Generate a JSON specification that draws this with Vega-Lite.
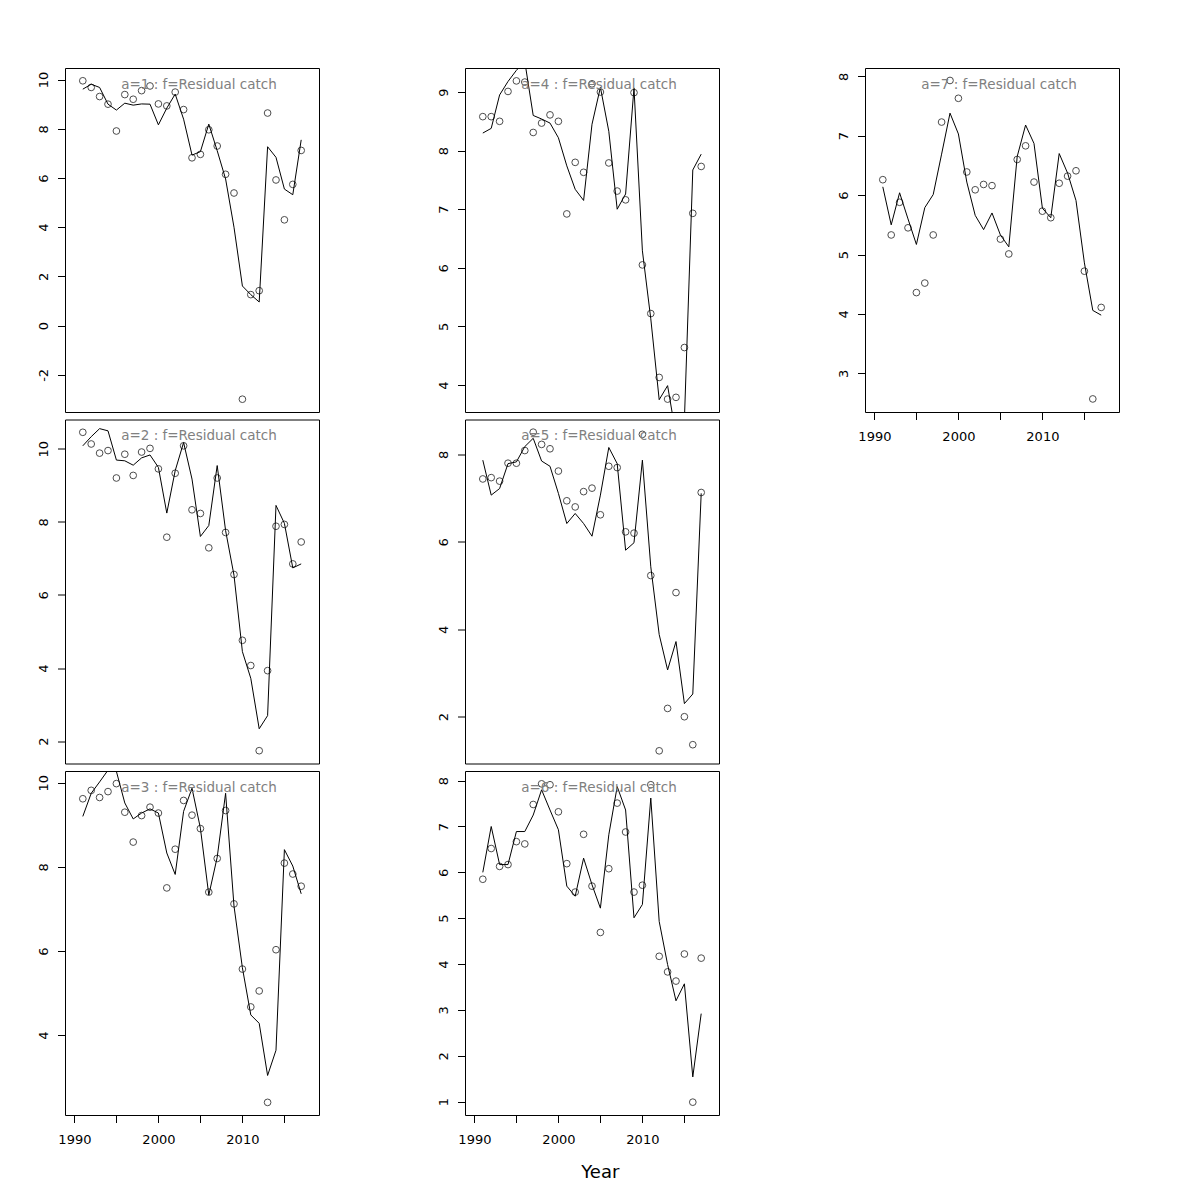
{
  "$schema": "https://vega.github.io/schema/vega-lite/v6.json",
  "padding": {"left": 36, "top": 67, "right": 5, "bottom": 5},
  "background": "white",
  "config": {
    "font": "DejaVu Sans",
    "view": {"stroke": "black", "strokeWidth": 1},
    "axis": {"domain": false, "grid": false, "tickColor": "black", "tickSize": 7.5, "labelColor": "black", "labelFontSize": 13, "labelFont": "DejaVu Sans", "labelFlush": false, "labelOverlap": false, "title": null}
  },
  "title": {"text": "Year", "orient": "bottom", "anchor": "middle", "frame": "bounds", "dx": 22, "fontSize": 18, "fontWeight": "normal", "color": "black", "font": "DejaVu Sans", "offset": 17},
  "data": {"values": [
    {"a":1,"year":1991,"obs":9.95,"fit":9.61},{"a":1,"year":1992,"obs":9.68,"fit":9.81},{"a":1,"year":1993,"obs":9.31,"fit":9.68},{"a":1,"year":1994,"obs":9.00,"fit":9.00},{"a":1,"year":1995,"obs":7.91,"fit":8.76},{"a":1,"year":1996,"obs":9.39,"fit":9.04},{"a":1,"year":1997,"obs":9.20,"fit":8.96},{"a":1,"year":1998,"obs":9.55,"fit":9.01},{"a":1,"year":1999,"obs":9.74,"fit":9.00},{"a":1,"year":2000,"obs":9.01,"fit":8.16},{"a":1,"year":2001,"obs":8.93,"fit":8.84},{"a":1,"year":2002,"obs":9.49,"fit":9.41},{"a":1,"year":2003,"obs":8.78,"fit":8.39},{"a":1,"year":2004,"obs":6.82,"fit":6.93},{"a":1,"year":2005,"obs":6.96,"fit":7.07},{"a":1,"year":2006,"obs":7.96,"fit":8.19},{"a":1,"year":2007,"obs":7.30,"fit":7.11},{"a":1,"year":2008,"obs":6.15,"fit":5.96},{"a":1,"year":2009,"obs":5.39,"fit":4.00},{"a":1,"year":2010,"obs":-2.99,"fit":1.61},{"a":1,"year":2011,"obs":1.26,"fit":1.26},{"a":1,"year":2012,"obs":1.42,"fit":0.96},{"a":1,"year":2013,"obs":8.64,"fit":7.27},{"a":1,"year":2014,"obs":5.92,"fit":6.84},{"a":1,"year":2015,"obs":4.30,"fit":5.55},{"a":1,"year":2016,"obs":5.74,"fit":5.32},{"a":1,"year":2017,"obs":7.12,"fit":7.55},
    {"a":2,"year":1991,"obs":10.45,"fit":10.08},{"a":2,"year":1992,"obs":10.13,"fit":10.33},{"a":2,"year":1993,"obs":9.88,"fit":10.55},{"a":2,"year":1994,"obs":9.95,"fit":10.49},{"a":2,"year":1995,"obs":9.20,"fit":9.69},{"a":2,"year":1996,"obs":9.85,"fit":9.67},{"a":2,"year":1997,"obs":9.27,"fit":9.55},{"a":2,"year":1998,"obs":9.91,"fit":9.75},{"a":2,"year":1999,"obs":10.01,"fit":9.83},{"a":2,"year":2000,"obs":9.45,"fit":9.49},{"a":2,"year":2001,"obs":7.58,"fit":8.24},{"a":2,"year":2002,"obs":9.33,"fit":9.40},{"a":2,"year":2003,"obs":10.08,"fit":10.17},{"a":2,"year":2004,"obs":8.33,"fit":9.17},{"a":2,"year":2005,"obs":8.23,"fit":7.60},{"a":2,"year":2006,"obs":7.29,"fit":7.90},{"a":2,"year":2007,"obs":9.20,"fit":9.54},{"a":2,"year":2008,"obs":7.71,"fit":7.76},{"a":2,"year":2009,"obs":6.56,"fit":6.54},{"a":2,"year":2010,"obs":4.76,"fit":4.45},{"a":2,"year":2011,"obs":4.07,"fit":3.72},{"a":2,"year":2012,"obs":1.74,"fit":2.34},{"a":2,"year":2013,"obs":3.93,"fit":2.70},{"a":2,"year":2014,"obs":7.88,"fit":8.45},{"a":2,"year":2015,"obs":7.93,"fit":7.96},{"a":2,"year":2016,"obs":6.85,"fit":6.74},{"a":2,"year":2017,"obs":7.45,"fit":6.85},
    {"a":3,"year":1991,"obs":9.62,"fit":9.20},{"a":3,"year":1992,"obs":9.82,"fit":9.75},{"a":3,"year":1993,"obs":9.65,"fit":10.02},{"a":3,"year":1994,"obs":9.79,"fit":10.30},{"a":3,"year":1995,"obs":9.98,"fit":10.27},{"a":3,"year":1996,"obs":9.30,"fit":9.52},{"a":3,"year":1997,"obs":8.59,"fit":9.14},{"a":3,"year":1998,"obs":9.22,"fit":9.28},{"a":3,"year":1999,"obs":9.42,"fit":9.38},{"a":3,"year":2000,"obs":9.28,"fit":9.28},{"a":3,"year":2001,"obs":7.50,"fit":8.33},{"a":3,"year":2002,"obs":8.42,"fit":7.82},{"a":3,"year":2003,"obs":9.58,"fit":9.32},{"a":3,"year":2004,"obs":9.23,"fit":9.87},{"a":3,"year":2005,"obs":8.91,"fit":8.92},{"a":3,"year":2006,"obs":7.40,"fit":7.33},{"a":3,"year":2007,"obs":8.20,"fit":8.23},{"a":3,"year":2008,"obs":9.34,"fit":9.75},{"a":3,"year":2009,"obs":7.12,"fit":7.07},{"a":3,"year":2010,"obs":5.57,"fit":5.60},{"a":3,"year":2011,"obs":4.67,"fit":4.48},{"a":3,"year":2012,"obs":5.05,"fit":4.28},{"a":3,"year":2013,"obs":2.40,"fit":3.04},{"a":3,"year":2014,"obs":6.03,"fit":3.64},{"a":3,"year":2015,"obs":8.09,"fit":8.41},{"a":3,"year":2016,"obs":7.83,"fit":8.02},{"a":3,"year":2017,"obs":7.54,"fit":7.36},
    {"a":4,"year":1991,"obs":8.58,"fit":8.30},{"a":4,"year":1992,"obs":8.58,"fit":8.38},{"a":4,"year":1993,"obs":8.50,"fit":8.95},{"a":4,"year":1994,"obs":9.01,"fit":9.18},{"a":4,"year":1995,"obs":9.19,"fit":9.37},{"a":4,"year":1996,"obs":9.17,"fit":9.52},{"a":4,"year":1997,"obs":8.31,"fit":8.60},{"a":4,"year":1998,"obs":8.47,"fit":8.54},{"a":4,"year":1999,"obs":8.61,"fit":8.47},{"a":4,"year":2000,"obs":8.50,"fit":8.22},{"a":4,"year":2001,"obs":6.92,"fit":7.74},{"a":4,"year":2002,"obs":7.80,"fit":7.34},{"a":4,"year":2003,"obs":7.63,"fit":7.15},{"a":4,"year":2004,"obs":9.14,"fit":8.45},{"a":4,"year":2005,"obs":9.00,"fit":9.08},{"a":4,"year":2006,"obs":7.79,"fit":8.33},{"a":4,"year":2007,"obs":7.31,"fit":7.00},{"a":4,"year":2008,"obs":7.16,"fit":7.26},{"a":4,"year":2009,"obs":8.99,"fit":9.07},{"a":4,"year":2010,"obs":6.05,"fit":6.29},{"a":4,"year":2011,"obs":5.22,"fit":5.13},{"a":4,"year":2012,"obs":4.13,"fit":3.75},{"a":4,"year":2013,"obs":3.76,"fit":3.99},{"a":4,"year":2014,"obs":3.79,"fit":3.14},{"a":4,"year":2015,"obs":4.64,"fit":3.40},{"a":4,"year":2016,"obs":6.93,"fit":7.67},{"a":4,"year":2017,"obs":7.73,"fit":7.94},
    {"a":5,"year":1991,"obs":7.44,"fit":7.87},{"a":5,"year":1992,"obs":7.47,"fit":7.07},{"a":5,"year":1993,"obs":7.39,"fit":7.22},{"a":5,"year":1994,"obs":7.80,"fit":7.79},{"a":5,"year":1995,"obs":7.80,"fit":7.83},{"a":5,"year":1996,"obs":8.09,"fit":8.18},{"a":5,"year":1997,"obs":8.51,"fit":8.37},{"a":5,"year":1998,"obs":8.23,"fit":7.85},{"a":5,"year":1999,"obs":8.13,"fit":7.73},{"a":5,"year":2000,"obs":7.62,"fit":7.11},{"a":5,"year":2001,"obs":6.94,"fit":6.42},{"a":5,"year":2002,"obs":6.80,"fit":6.65},{"a":5,"year":2003,"obs":7.15,"fit":6.42},{"a":5,"year":2004,"obs":7.23,"fit":6.13},{"a":5,"year":2005,"obs":6.62,"fit":7.07},{"a":5,"year":2006,"obs":7.73,"fit":8.16},{"a":5,"year":2007,"obs":7.70,"fit":7.79},{"a":5,"year":2008,"obs":6.23,"fit":5.81},{"a":5,"year":2009,"obs":6.20,"fit":5.98},{"a":5,"year":2010,"obs":8.46,"fit":7.87},{"a":5,"year":2011,"obs":5.23,"fit":5.43},{"a":5,"year":2012,"obs":1.22,"fit":3.88},{"a":5,"year":2013,"obs":2.19,"fit":3.07},{"a":5,"year":2014,"obs":4.84,"fit":3.72},{"a":5,"year":2015,"obs":2.00,"fit":2.30},{"a":5,"year":2016,"obs":1.36,"fit":2.52},{"a":5,"year":2017,"obs":7.13,"fit":7.11},
    {"a":6,"year":1991,"obs":5.85,"fit":6.00},{"a":6,"year":1992,"obs":6.52,"fit":7.00},{"a":6,"year":1993,"obs":6.13,"fit":6.17},{"a":6,"year":1994,"obs":6.17,"fit":6.17},{"a":6,"year":1995,"obs":6.67,"fit":6.89},{"a":6,"year":1996,"obs":6.62,"fit":6.89},{"a":6,"year":1997,"obs":7.48,"fit":7.25},{"a":6,"year":1998,"obs":7.93,"fit":7.80},{"a":6,"year":1999,"obs":7.91,"fit":7.36},{"a":6,"year":2000,"obs":7.32,"fit":6.93},{"a":6,"year":2001,"obs":6.19,"fit":5.70},{"a":6,"year":2002,"obs":5.57,"fit":5.48},{"a":6,"year":2003,"obs":6.83,"fit":6.31},{"a":6,"year":2004,"obs":5.70,"fit":5.73},{"a":6,"year":2005,"obs":4.69,"fit":5.22},{"a":6,"year":2006,"obs":6.08,"fit":6.82},{"a":6,"year":2007,"obs":7.51,"fit":7.87},{"a":6,"year":2008,"obs":6.88,"fit":7.36},{"a":6,"year":2009,"obs":5.57,"fit":5.01},{"a":6,"year":2010,"obs":5.72,"fit":5.30},{"a":6,"year":2011,"obs":7.91,"fit":7.62},{"a":6,"year":2012,"obs":4.17,"fit":4.93},{"a":6,"year":2013,"obs":3.83,"fit":3.99},{"a":6,"year":2014,"obs":3.63,"fit":3.20},{"a":6,"year":2015,"obs":4.22,"fit":3.57},{"a":6,"year":2016,"obs":0.99,"fit":1.54},{"a":6,"year":2017,"obs":4.13,"fit":2.92},
    {"a":7,"year":1991,"obs":6.26,"fit":6.14},{"a":7,"year":1992,"obs":5.33,"fit":5.50},{"a":7,"year":1993,"obs":5.88,"fit":6.04},{"a":7,"year":1994,"obs":5.45,"fit":5.60},{"a":7,"year":1995,"obs":4.36,"fit":5.17},{"a":7,"year":1996,"obs":4.52,"fit":5.79},{"a":7,"year":1997,"obs":5.33,"fit":6.01},{"a":7,"year":1998,"obs":7.23,"fit":6.69},{"a":7,"year":1999,"obs":7.93,"fit":7.38},{"a":7,"year":2000,"obs":7.63,"fit":7.03},{"a":7,"year":2001,"obs":6.39,"fit":6.22},{"a":7,"year":2002,"obs":6.09,"fit":5.66},{"a":7,"year":2003,"obs":6.18,"fit":5.42},{"a":7,"year":2004,"obs":6.16,"fit":5.70},{"a":7,"year":2005,"obs":5.26,"fit":5.33},{"a":7,"year":2006,"obs":5.01,"fit":5.13},{"a":7,"year":2007,"obs":6.60,"fit":6.65},{"a":7,"year":2008,"obs":6.83,"fit":7.18},{"a":7,"year":2009,"obs":6.22,"fit":6.87},{"a":7,"year":2010,"obs":5.73,"fit":5.78},{"a":7,"year":2011,"obs":5.62,"fit":5.62},{"a":7,"year":2012,"obs":6.20,"fit":6.70},{"a":7,"year":2013,"obs":6.32,"fit":6.37},{"a":7,"year":2014,"obs":6.41,"fit":5.91},{"a":7,"year":2015,"obs":4.72,"fit":4.86},{"a":7,"year":2016,"obs":2.57,"fit":4.06},{"a":7,"year":2017,"obs":4.11,"fit":3.98}
  ]},
  "bounds": "flush",
  "columns": 3,
  "spacing": {"row": 7.5, "column": 146},
  "concat": [
    {"width": 254, "height": 344,
     "title": {"text": "a=1 : f=Residual catch", "frame": "group", "anchor": "middle", "offset": -23, "dx": 7, "fontSize": 13.5, "fontWeight": "normal", "color": "#808080", "font": "DejaVu Sans"},
     "transform": [{"filter": "datum.a == 1"}],
     "encoding": {"x": {"field": "year", "type": "quantitative", "scale": {"domain": [1988.88, 2019.12], "nice": false, "zero": false}, "axis": null}},
     "layer": [
       {"mark": {"type": "line", "color": "black", "strokeWidth": 1, "clip": true},
        "encoding": {"y": {"field": "fit", "type": "quantitative", "title": null, "scale": {"domain": [-3.51, 10.47], "nice": false, "zero": false}, "axis": {"values": [-2, 0, 2, 4, 6, 8, 10], "labelExpr": "'' + datum.value", "labelAngle": -90, "labelAlign": "center", "labelBaseline": "bottom", "labelPadding": 7}}}},
       {"mark": {"type": "point", "shape": "circle", "filled": false, "color": "black", "strokeWidth": 1, "size": 45, "clip": true},
        "encoding": {"y": {"field": "obs", "type": "quantitative", "title": null}}}
     ]},
    {"width": 254, "height": 344,
     "title": {"text": "a=4 : f=Residual catch", "frame": "group", "anchor": "middle", "offset": -23, "dx": 7, "fontSize": 13.5, "fontWeight": "normal", "color": "#808080", "font": "DejaVu Sans"},
     "transform": [{"filter": "datum.a == 4"}],
     "encoding": {"x": {"field": "year", "type": "quantitative", "scale": {"domain": [1988.88, 2019.12], "nice": false, "zero": false}, "axis": null}},
     "layer": [
       {"mark": {"type": "line", "color": "black", "strokeWidth": 1, "clip": true},
        "encoding": {"y": {"field": "fit", "type": "quantitative", "title": null, "scale": {"domain": [3.54, 9.41], "nice": false, "zero": false}, "axis": {"values": [4, 5, 6, 7, 8, 9], "labelExpr": "'' + datum.value", "labelAngle": -90, "labelAlign": "center", "labelBaseline": "bottom", "labelPadding": 7}}}},
       {"mark": {"type": "point", "shape": "circle", "filled": false, "color": "black", "strokeWidth": 1, "size": 45, "clip": true},
        "encoding": {"y": {"field": "obs", "type": "quantitative", "title": null}}}
     ]},
    {"width": 254, "height": 344,
     "title": {"text": "a=7 : f=Residual catch", "frame": "group", "anchor": "middle", "offset": -23, "dx": 7, "fontSize": 13.5, "fontWeight": "normal", "color": "#808080", "font": "DejaVu Sans"},
     "transform": [{"filter": "datum.a == 7"}],
     "encoding": {"x": {"field": "year", "type": "quantitative", "title": null, "scale": {"domain": [1988.88, 2019.12], "nice": false, "zero": false}, "axis": {"values": [1990, 1995, 2000, 2005, 2010, 2015], "labelExpr": "datum.value % 10 == 0 ? '' + datum.value : ''", "labelPadding": 11}}},
     "layer": [
       {"mark": {"type": "line", "color": "black", "strokeWidth": 1, "clip": true},
        "encoding": {"y": {"field": "fit", "type": "quantitative", "title": null, "scale": {"domain": [2.35, 8.14], "nice": false, "zero": false}, "axis": {"values": [3, 4, 5, 6, 7, 8], "labelExpr": "'' + datum.value", "labelAngle": -90, "labelAlign": "center", "labelBaseline": "bottom", "labelPadding": 7}}}},
       {"mark": {"type": "point", "shape": "circle", "filled": false, "color": "black", "strokeWidth": 1, "size": 45, "clip": true},
        "encoding": {"y": {"field": "obs", "type": "quantitative", "title": null}}}
     ]},
    {"width": 254, "height": 344,
     "title": {"text": "a=2 : f=Residual catch", "frame": "group", "anchor": "middle", "offset": -23, "dx": 7, "fontSize": 13.5, "fontWeight": "normal", "color": "#808080", "font": "DejaVu Sans"},
     "transform": [{"filter": "datum.a == 2"}],
     "encoding": {"x": {"field": "year", "type": "quantitative", "scale": {"domain": [1988.88, 2019.12], "nice": false, "zero": false}, "axis": null}},
     "layer": [
       {"mark": {"type": "line", "color": "black", "strokeWidth": 1, "clip": true},
        "encoding": {"y": {"field": "fit", "type": "quantitative", "title": null, "scale": {"domain": [1.39, 10.8], "nice": false, "zero": false}, "axis": {"values": [2, 4, 6, 8, 10], "labelExpr": "'' + datum.value", "labelAngle": -90, "labelAlign": "center", "labelBaseline": "bottom", "labelPadding": 7}}}},
       {"mark": {"type": "point", "shape": "circle", "filled": false, "color": "black", "strokeWidth": 1, "size": 45, "clip": true},
        "encoding": {"y": {"field": "obs", "type": "quantitative", "title": null}}}
     ]},
    {"width": 254, "height": 344,
     "title": {"text": "a=5 : f=Residual catch", "frame": "group", "anchor": "middle", "offset": -23, "dx": 7, "fontSize": 13.5, "fontWeight": "normal", "color": "#808080", "font": "DejaVu Sans"},
     "transform": [{"filter": "datum.a == 5"}],
     "encoding": {"x": {"field": "year", "type": "quantitative", "scale": {"domain": [1988.88, 2019.12], "nice": false, "zero": false}, "axis": null}},
     "layer": [
       {"mark": {"type": "line", "color": "black", "strokeWidth": 1, "clip": true},
        "encoding": {"y": {"field": "fit", "type": "quantitative", "title": null, "scale": {"domain": [0.93, 8.8], "nice": false, "zero": false}, "axis": {"values": [2, 4, 6, 8], "labelExpr": "'' + datum.value", "labelAngle": -90, "labelAlign": "center", "labelBaseline": "bottom", "labelPadding": 7}}}},
       {"mark": {"type": "point", "shape": "circle", "filled": false, "color": "black", "strokeWidth": 1, "size": 45, "clip": true},
        "encoding": {"y": {"field": "obs", "type": "quantitative", "title": null}}}
     ]},
    {"width": 254, "height": 344,
     "view": {"stroke": null},
     "transform": [{"filter": "datum.a == 0"}],
     "mark": {"type": "point", "opacity": 0},
     "encoding": {"x": {"field": "year", "type": "quantitative", "axis": null}, "y": {"field": "obs", "type": "quantitative", "axis": null}}},
    {"width": 254, "height": 344,
     "title": {"text": "a=3 : f=Residual catch", "frame": "group", "anchor": "middle", "offset": -23, "dx": 7, "fontSize": 13.5, "fontWeight": "normal", "color": "#808080", "font": "DejaVu Sans"},
     "transform": [{"filter": "datum.a == 3"}],
     "encoding": {"x": {"field": "year", "type": "quantitative", "title": null, "scale": {"domain": [1988.88, 2019.12], "nice": false, "zero": false}, "axis": {"values": [1990, 1995, 2000, 2005, 2010, 2015], "labelExpr": "datum.value % 10 == 0 ? '' + datum.value : ''", "labelPadding": 11}}},
     "layer": [
       {"mark": {"type": "line", "color": "black", "strokeWidth": 1, "clip": true},
        "encoding": {"y": {"field": "fit", "type": "quantitative", "title": null, "scale": {"domain": [2.10, 10.28], "nice": false, "zero": false}, "axis": {"values": [4, 6, 8, 10], "labelExpr": "'' + datum.value", "labelAngle": -90, "labelAlign": "center", "labelBaseline": "bottom", "labelPadding": 7}}}},
       {"mark": {"type": "point", "shape": "circle", "filled": false, "color": "black", "strokeWidth": 1, "size": 45, "clip": true},
        "encoding": {"y": {"field": "obs", "type": "quantitative", "title": null}}}
     ]},
    {"width": 254, "height": 344,
     "title": {"text": "a=6 : f=Residual catch", "frame": "group", "anchor": "middle", "offset": -23, "dx": 7, "fontSize": 13.5, "fontWeight": "normal", "color": "#808080", "font": "DejaVu Sans"},
     "transform": [{"filter": "datum.a == 6"}],
     "encoding": {"x": {"field": "year", "type": "quantitative", "title": null, "scale": {"domain": [1988.88, 2019.12], "nice": false, "zero": false}, "axis": {"values": [1990, 1995, 2000, 2005, 2010, 2015], "labelExpr": "datum.value % 10 == 0 ? '' + datum.value : ''", "labelPadding": 11}}},
     "layer": [
       {"mark": {"type": "line", "color": "black", "strokeWidth": 1, "clip": true},
        "encoding": {"y": {"field": "fit", "type": "quantitative", "title": null, "scale": {"domain": [0.71, 8.21], "nice": false, "zero": false}, "axis": {"values": [1, 2, 3, 4, 5, 6, 7, 8], "labelExpr": "'' + datum.value", "labelAngle": -90, "labelAlign": "center", "labelBaseline": "bottom", "labelPadding": 7}}}},
       {"mark": {"type": "point", "shape": "circle", "filled": false, "color": "black", "strokeWidth": 1, "size": 45, "clip": true},
        "encoding": {"y": {"field": "obs", "type": "quantitative", "title": null}}}
     ]}
  ]
}
